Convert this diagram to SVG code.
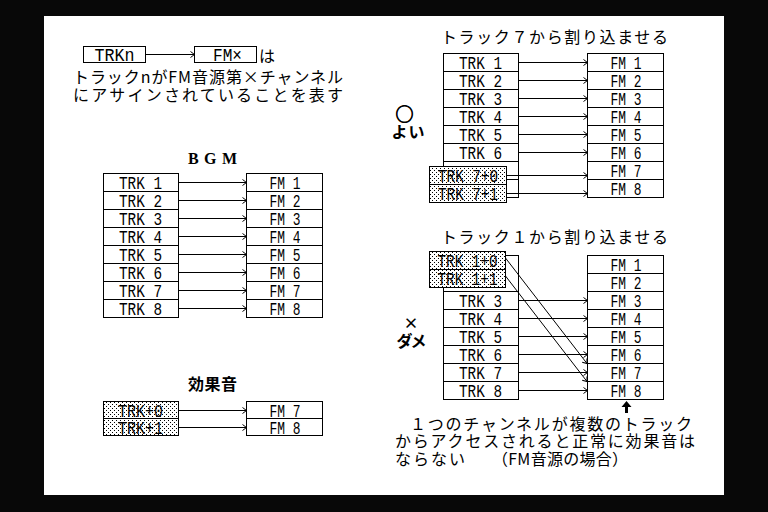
<svg xmlns="http://www.w3.org/2000/svg" width="768" height="512" viewBox="0 0 768 512">
<style>
.bx{fill:#fff;stroke:#000;stroke-width:1}
.dt{fill:url(#dots);stroke:#000;stroke-width:1}
.ol{fill:none;stroke:#000;stroke-width:1}
.t{font-family:"Liberation Mono",monospace;font-size:19px;fill:#000;text-anchor:middle}
.j{font-family:"Noto Sans CJK JP",sans-serif;font-size:16px;fill:#000}
.jb{font-family:"Noto Sans CJK JP",sans-serif;font-size:16px;font-weight:bold;fill:#000}
.c line{stroke:#000;stroke-width:1;marker-end:url(#ah)}
</style>
<defs>
<pattern id="dots" width="4" height="4" patternUnits="userSpaceOnUse"><rect width="4" height="4" fill="#fff"/><rect x="0" y="0" width="1" height="1" fill="#000"/><rect x="2" y="2" width="1" height="1" fill="#000"/></pattern>
<marker id="ah" markerWidth="6" markerHeight="8" refX="5" refY="4" orient="auto" markerUnits="userSpaceOnUse"><path d="M1,1 L5,4 L1,7" fill="none" stroke="#000" stroke-width="1"/></marker>
</defs>
<rect width="768" height="512" fill="#080808"/>
<rect x="44" y="16" width="680" height="479" fill="#fff"/>

<!-- legend -->
<g id="legend-trkn"><rect class="bx" x="83.5" y="46.5" width="62" height="16"/><text class="t" x="114.5" y="61" textLength="40" lengthAdjust="spacingAndGlyphs">TRKn</text></g>
<g id="legend-fmx"><rect class="bx" x="194.5" y="46.5" width="62" height="16"/><text class="t" x="227.5" y="61" textLength="29" lengthAdjust="spacingAndGlyphs">FM×</text></g>
<text class="j" x="259" y="62">は</text>
<text class="j" x="73" y="83" textLength="270">トラックnがFM音源第×チャンネル</text>
<text class="j" x="73" y="101" textLength="270">にアサインされていることを表す</text>

<!-- BGM -->
<text x="212.5" y="163.5" font-family="Liberation Serif,serif" font-weight="bold" font-size="16" text-anchor="middle" textLength="49">B G M</text>
<g id="bgm-trk1"><rect class="bx" x="103.5" y="173.5" width="75" height="18"/><text class="t" x="140.5" y="189" textLength="43" lengthAdjust="spacingAndGlyphs">TRK 1</text></g>
<g id="bgm-trk2"><rect class="bx" x="103.5" y="191.5" width="75" height="18"/><text class="t" x="140.5" y="207" textLength="43" lengthAdjust="spacingAndGlyphs">TRK 2</text></g>
<g id="bgm-trk3"><rect class="bx" x="103.5" y="209.5" width="75" height="18"/><text class="t" x="140.5" y="225" textLength="43" lengthAdjust="spacingAndGlyphs">TRK 3</text></g>
<g id="bgm-trk4"><rect class="bx" x="103.5" y="227.5" width="75" height="18"/><text class="t" x="140.5" y="243" textLength="43" lengthAdjust="spacingAndGlyphs">TRK 4</text></g>
<g id="bgm-trk5"><rect class="bx" x="103.5" y="245.5" width="75" height="18"/><text class="t" x="140.5" y="261" textLength="43" lengthAdjust="spacingAndGlyphs">TRK 5</text></g>
<g id="bgm-trk6"><rect class="bx" x="103.5" y="263.5" width="75" height="18"/><text class="t" x="140.5" y="279" textLength="43" lengthAdjust="spacingAndGlyphs">TRK 6</text></g>
<g id="bgm-trk7"><rect class="bx" x="103.5" y="281.5" width="75" height="18"/><text class="t" x="140.5" y="297" textLength="43" lengthAdjust="spacingAndGlyphs">TRK 7</text></g>
<g id="bgm-trk8"><rect class="bx" x="103.5" y="299.5" width="75" height="18"/><text class="t" x="140.5" y="315" textLength="43" lengthAdjust="spacingAndGlyphs">TRK 8</text></g>
<g id="bgm-fm1"><rect class="bx" x="246.5" y="173.5" width="76" height="18"/><text class="t" x="285" y="189" textLength="31" lengthAdjust="spacingAndGlyphs">FM 1</text></g>
<g id="bgm-fm2"><rect class="bx" x="246.5" y="191.5" width="76" height="18"/><text class="t" x="285" y="207" textLength="31" lengthAdjust="spacingAndGlyphs">FM 2</text></g>
<g id="bgm-fm3"><rect class="bx" x="246.5" y="209.5" width="76" height="18"/><text class="t" x="285" y="225" textLength="31" lengthAdjust="spacingAndGlyphs">FM 3</text></g>
<g id="bgm-fm4"><rect class="bx" x="246.5" y="227.5" width="76" height="18"/><text class="t" x="285" y="243" textLength="31" lengthAdjust="spacingAndGlyphs">FM 4</text></g>
<g id="bgm-fm5"><rect class="bx" x="246.5" y="245.5" width="76" height="18"/><text class="t" x="285" y="261" textLength="31" lengthAdjust="spacingAndGlyphs">FM 5</text></g>
<g id="bgm-fm6"><rect class="bx" x="246.5" y="263.5" width="76" height="18"/><text class="t" x="285" y="279" textLength="31" lengthAdjust="spacingAndGlyphs">FM 6</text></g>
<g id="bgm-fm7"><rect class="bx" x="246.5" y="281.5" width="76" height="18"/><text class="t" x="285" y="297" textLength="31" lengthAdjust="spacingAndGlyphs">FM 7</text></g>
<g id="bgm-fm8"><rect class="bx" x="246.5" y="299.5" width="76" height="18"/><text class="t" x="285" y="315" textLength="31" lengthAdjust="spacingAndGlyphs">FM 8</text></g>

<!-- effect -->
<text class="jb" x="212.5" y="390" text-anchor="middle" textLength="49">効果音</text>
<g id="se-trk0"><rect class="dt" x="103.5" y="401.5" width="75" height="17"/><text class="t" x="140.5" y="416.5" textLength="45" lengthAdjust="spacingAndGlyphs">TRK+0</text></g>
<g id="se-trk1"><rect class="dt" x="103.5" y="418.5" width="75" height="17"/><text class="t" x="140.5" y="433.5" textLength="45" lengthAdjust="spacingAndGlyphs">TRK+1</text></g>
<g id="se-fm7"><rect class="bx" x="246.5" y="401.5" width="76" height="17"/><text class="t" x="285" y="416.5" textLength="31" lengthAdjust="spacingAndGlyphs">FM 7</text></g>
<g id="se-fm8"><rect class="bx" x="246.5" y="418.5" width="76" height="17"/><text class="t" x="285" y="433.5" textLength="31" lengthAdjust="spacingAndGlyphs">FM 8</text></g>

<!-- right top -->
<text class="j" x="441" y="43" textLength="227">トラック７から割り込ませる</text>
<text x="404.5" y="121" font-family="Noto Sans CJK JP,sans-serif" font-size="18" stroke="#000" stroke-width="0.8" fill="#000" text-anchor="middle">○</text>
<text class="jb" x="408" y="138" text-anchor="middle" textLength="33">よい</text>
<g id="a-col"><rect class="ol" x="443.5" y="53.5" width="75" height="144"/></g>
<g id="a-trk1"><rect class="bx" x="443.5" y="53.5" width="75" height="18"/><text class="t" x="480.5" y="69" textLength="43" lengthAdjust="spacingAndGlyphs">TRK 1</text></g>
<g id="a-trk2"><rect class="bx" x="443.5" y="71.5" width="75" height="18"/><text class="t" x="480.5" y="87" textLength="43" lengthAdjust="spacingAndGlyphs">TRK 2</text></g>
<g id="a-trk3"><rect class="bx" x="443.5" y="89.5" width="75" height="18"/><text class="t" x="480.5" y="105" textLength="43" lengthAdjust="spacingAndGlyphs">TRK 3</text></g>
<g id="a-trk4"><rect class="bx" x="443.5" y="107.5" width="75" height="18"/><text class="t" x="480.5" y="123" textLength="43" lengthAdjust="spacingAndGlyphs">TRK 4</text></g>
<g id="a-trk5"><rect class="bx" x="443.5" y="125.5" width="75" height="18"/><text class="t" x="480.5" y="141" textLength="43" lengthAdjust="spacingAndGlyphs">TRK 5</text></g>
<g id="a-trk6"><rect class="bx" x="443.5" y="143.5" width="75" height="18"/><text class="t" x="480.5" y="159" textLength="43" lengthAdjust="spacingAndGlyphs">TRK 6</text></g>
<line x1="506.5" y1="179.5" x2="518.5" y2="179.5" stroke="#000"/>
<g id="a-trk70"><rect class="dt" x="429.5" y="166.5" width="77" height="18"/><text class="t" x="468" y="182" textLength="60" lengthAdjust="spacingAndGlyphs">TRK 7+0</text></g>
<g id="a-trk71"><rect class="dt" x="429.5" y="184.5" width="77" height="18"/><text class="t" x="468" y="200" textLength="60" lengthAdjust="spacingAndGlyphs">TRK 7+1</text></g>
<g id="a-fm1"><rect class="bx" x="587.5" y="53.5" width="76" height="18"/><text class="t" x="626" y="69" textLength="31" lengthAdjust="spacingAndGlyphs">FM 1</text></g>
<g id="a-fm2"><rect class="bx" x="587.5" y="71.5" width="76" height="18"/><text class="t" x="626" y="87" textLength="31" lengthAdjust="spacingAndGlyphs">FM 2</text></g>
<g id="a-fm3"><rect class="bx" x="587.5" y="89.5" width="76" height="18"/><text class="t" x="626" y="105" textLength="31" lengthAdjust="spacingAndGlyphs">FM 3</text></g>
<g id="a-fm4"><rect class="bx" x="587.5" y="107.5" width="76" height="18"/><text class="t" x="626" y="123" textLength="31" lengthAdjust="spacingAndGlyphs">FM 4</text></g>
<g id="a-fm5"><rect class="bx" x="587.5" y="125.5" width="76" height="18"/><text class="t" x="626" y="141" textLength="31" lengthAdjust="spacingAndGlyphs">FM 5</text></g>
<g id="a-fm6"><rect class="bx" x="587.5" y="143.5" width="76" height="18"/><text class="t" x="626" y="159" textLength="31" lengthAdjust="spacingAndGlyphs">FM 6</text></g>
<g id="a-fm7"><rect class="bx" x="587.5" y="161.5" width="76" height="18"/><text class="t" x="626" y="177" textLength="31" lengthAdjust="spacingAndGlyphs">FM 7</text></g>
<g id="a-fm8"><rect class="bx" x="587.5" y="179.5" width="76" height="18"/><text class="t" x="626" y="195" textLength="31" lengthAdjust="spacingAndGlyphs">FM 8</text></g>

<!-- right bottom -->
<text class="j" x="441" y="243" textLength="227">トラック１から割り込ませる</text>
<text x="411" y="329" font-family="Noto Sans CJK JP,sans-serif" font-size="15" font-weight="bold" text-anchor="middle">×</text>
<text class="jb" x="411.5" y="347" text-anchor="middle" textLength="30">ダメ</text>
<g id="b-col"><rect class="ol" x="443.5" y="255.5" width="75" height="144"/></g>
<g id="b-trk3"><rect class="bx" x="443.5" y="291.5" width="75" height="18"/><text class="t" x="480.5" y="307" textLength="43" lengthAdjust="spacingAndGlyphs">TRK 3</text></g>
<g id="b-trk4"><rect class="bx" x="443.5" y="309.5" width="75" height="18"/><text class="t" x="480.5" y="325" textLength="43" lengthAdjust="spacingAndGlyphs">TRK 4</text></g>
<g id="b-trk5"><rect class="bx" x="443.5" y="327.5" width="75" height="18"/><text class="t" x="480.5" y="343" textLength="43" lengthAdjust="spacingAndGlyphs">TRK 5</text></g>
<g id="b-trk6"><rect class="bx" x="443.5" y="345.5" width="75" height="18"/><text class="t" x="480.5" y="361" textLength="43" lengthAdjust="spacingAndGlyphs">TRK 6</text></g>
<g id="b-trk7"><rect class="bx" x="443.5" y="363.5" width="75" height="18"/><text class="t" x="480.5" y="379" textLength="43" lengthAdjust="spacingAndGlyphs">TRK 7</text></g>
<g id="b-trk8"><rect class="bx" x="443.5" y="381.5" width="75" height="18"/><text class="t" x="480.5" y="397" textLength="43" lengthAdjust="spacingAndGlyphs">TRK 8</text></g>
<g id="b-trk10"><rect class="dt" x="429.5" y="251.5" width="76" height="18"/><text class="t" x="467.5" y="267" textLength="60" lengthAdjust="spacingAndGlyphs">TRK 1+0</text></g>
<g id="b-trk11"><rect class="dt" x="429.5" y="269.5" width="76" height="18"/><text class="t" x="467.5" y="285" textLength="60" lengthAdjust="spacingAndGlyphs">TRK 1+1</text></g>
<g id="b-fm1"><rect class="bx" x="587.5" y="255.5" width="76" height="18"/><text class="t" x="626" y="271" textLength="31" lengthAdjust="spacingAndGlyphs">FM 1</text></g>
<g id="b-fm2"><rect class="bx" x="587.5" y="273.5" width="76" height="18"/><text class="t" x="626" y="289" textLength="31" lengthAdjust="spacingAndGlyphs">FM 2</text></g>
<g id="b-fm3"><rect class="bx" x="587.5" y="291.5" width="76" height="18"/><text class="t" x="626" y="307" textLength="31" lengthAdjust="spacingAndGlyphs">FM 3</text></g>
<g id="b-fm4"><rect class="bx" x="587.5" y="309.5" width="76" height="18"/><text class="t" x="626" y="325" textLength="31" lengthAdjust="spacingAndGlyphs">FM 4</text></g>
<g id="b-fm5"><rect class="bx" x="587.5" y="327.5" width="76" height="18"/><text class="t" x="626" y="343" textLength="31" lengthAdjust="spacingAndGlyphs">FM 5</text></g>
<g id="b-fm6"><rect class="bx" x="587.5" y="345.5" width="76" height="18"/><text class="t" x="626" y="361" textLength="31" lengthAdjust="spacingAndGlyphs">FM 6</text></g>
<g id="b-fm7"><rect class="bx" x="587.5" y="363.5" width="76" height="18"/><text class="t" x="626" y="379" textLength="31" lengthAdjust="spacingAndGlyphs">FM 7</text></g>
<g id="b-fm8"><rect class="bx" x="587.5" y="381.5" width="76" height="18"/><text class="t" x="626" y="397" textLength="31" lengthAdjust="spacingAndGlyphs">FM 8</text></g>
<path d="M626.5,401 L631.5,407 L628,407 L628,413 L625,413 L625,407 L621.5,407 Z" fill="#000"/>

<text class="j" x="410" y="430" textLength="282">１つのチャンネルが複数のトラック</text>
<text class="j" x="395" y="447" textLength="300">からアクセスされると正常に効果音は</text>
<text class="j" x="395" y="465" textLength="70">ならない</text>
<text class="j" x="492" y="465" textLength="136">（FM音源の場合）</text>

<!-- connectors -->
<g class="c" id="connectors">
<line x1="145.5" y1="54.5" x2="194.5" y2="54.5"/>
<line x1="178.5" y1="182.5" x2="246.5" y2="182.5"/>
<line x1="178.5" y1="200.5" x2="246.5" y2="200.5"/>
<line x1="178.5" y1="218.5" x2="246.5" y2="218.5"/>
<line x1="178.5" y1="236.5" x2="246.5" y2="236.5"/>
<line x1="178.5" y1="254.5" x2="246.5" y2="254.5"/>
<line x1="178.5" y1="272.5" x2="246.5" y2="272.5"/>
<line x1="178.5" y1="290.5" x2="246.5" y2="290.5"/>
<line x1="178.5" y1="308.5" x2="246.5" y2="308.5"/>
<line x1="178.5" y1="410.5" x2="246.5" y2="410.5"/>
<line x1="178.5" y1="427.5" x2="246.5" y2="427.5"/>
<line x1="518.5" y1="62.5" x2="587.5" y2="62.5"/>
<line x1="518.5" y1="80.5" x2="587.5" y2="80.5"/>
<line x1="518.5" y1="98.5" x2="587.5" y2="98.5"/>
<line x1="518.5" y1="116.5" x2="587.5" y2="116.5"/>
<line x1="518.5" y1="134.5" x2="587.5" y2="134.5"/>
<line x1="518.5" y1="152.5" x2="587.5" y2="152.5"/>
<line x1="506.5" y1="175.5" x2="587.5" y2="175.5"/>
<line x1="506.5" y1="193.5" x2="587.5" y2="193.5"/>
<line x1="518.5" y1="300.5" x2="587.5" y2="300.5"/>
<line x1="518.5" y1="318.5" x2="587.5" y2="318.5"/>
<line x1="518.5" y1="336.5" x2="587.5" y2="336.5"/>
<line x1="518.5" y1="354.5" x2="587.5" y2="354.5"/>
<line x1="518.5" y1="372.5" x2="587.5" y2="372.5"/>
<line x1="518.5" y1="390.5" x2="587.5" y2="390.5"/>
<line x1="505.5" y1="258" x2="587" y2="363.5"/>
<line x1="505.5" y1="276" x2="587" y2="381.5"/>
</g>
</svg>
